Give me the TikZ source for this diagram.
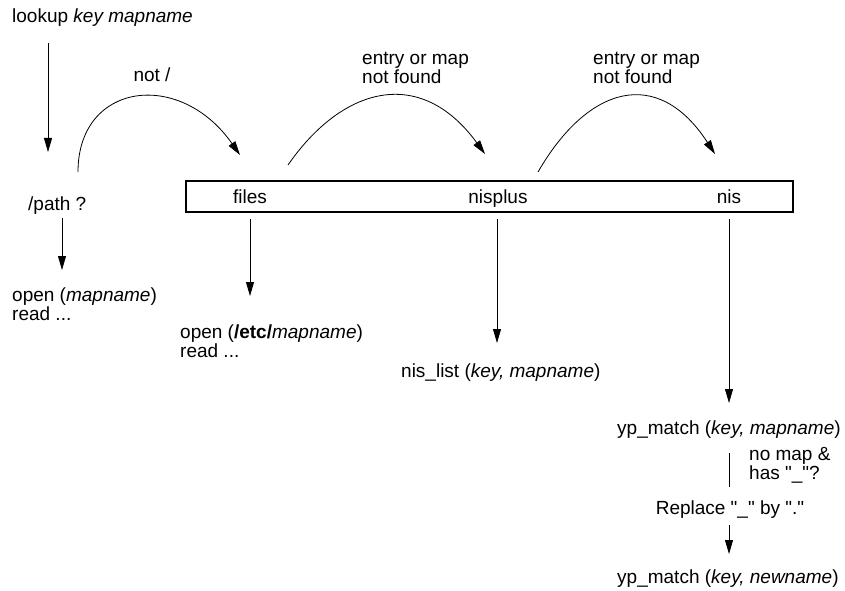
\documentclass[tikz,border=0pt]{standalone}
\usepackage{fontspec}
\setmainfont{Liberation Sans}[Ligatures=TeXOff]
\usetikzlibrary{arrows.meta}
\begin{document}
\begin{tikzpicture}[x=1pt,y=1pt,
  txt/.style={inner sep=0pt, font=\fontsize{19}{19}\selectfont, align=left},
  arr/.style={-{Triangle[length=14pt,width=8pt]}, line width=0.8pt},
  ln/.style={line width=0.8pt},
  bigbox/.style={draw, line width=2pt, minimum width=607pt, minimum height=31pt, inner sep=0pt}
]
\useasboundingbox (0,0) rectangle (845,590);

% nodes
\node[txt, anchor=west] (lookup) at (12,572) {lookup \textit{key mapname}};
\node[txt, anchor=west] (pathq) at (28,384.5) {/path ?};
\node[bigbox] (box) at (489.5,393.5) {};
\node[txt, anchor=base] (files) at (250,386) {files};
\node[txt, anchor=base] (nisplus) at (498,386) {nisplus};
\node[txt, anchor=base] (nis) at (729,386) {nis};
\node[txt] (notlbl) at (152,515) {not /};
\node[txt, anchor=west] (enf1) at (362,522.5) {entry or map\\not found};
\node[txt, anchor=west] (enf2) at (593,522.5) {entry or map\\not found};
\node[txt, anchor=west] (open1) at (12,285.5) {open (\textit{mapname})\\read ...};
\node[txt, anchor=west] (open2) at (180,249) {open (\textbf{/etc/}\textit{mapname})\\read ...};
\node[txt, anchor=west] (nislist) at (401,217) {nis\_list (\textit{key, mapname})};
\node[txt, anchor=west] (yp1) at (617,160.5) {yp\_match (\textit{key, mapname})};
\node[txt, anchor=west] (nomap) at (749,125) {no map \&\\has "\_"?};
\node[txt] (repl) at (730,80) {Replace "\_" by "."};
\node[txt, anchor=west] (yp2) at (617,11) {yp\_match (\textit{key, newname})};

% coordinates for connector ends
\coordinate (a1s) at (48,547);
\coordinate (a1e) at (48,438);
\coordinate (a2s) at (62,372);
\coordinate (a2e) at (62,320);
\coordinate (a3e) at (250,294);
\coordinate (a4e) at (497,247);
\coordinate (a5e) at (729,187);
\coordinate (l6s) at (729,137);
\coordinate (l6e) at (729,103);
\coordinate (a7s) at (729,65);
\coordinate (a7e) at (729,36);

\coordinate (c1s) at (78,418);
\coordinate (c1e) at (240,435);
\coordinate (c2s) at (288,425);
\coordinate (c2e) at (485,436);
\coordinate (c3s) at (538,418);
\coordinate (c3e) at (715,436);

% connectors
\draw[arr] (a1s) -- (a1e);
\draw[arr] (a2s) -- (a2e);
\draw[arr] ([yshift=-6pt]box.south -| a3e) -- (a3e);
\draw[arr] ([yshift=-6pt]box.south -| a4e) -- (a4e);
\draw[arr] ([yshift=-6pt]box.south -| a5e) -- (a5e);
\draw[ln] (l6s) -- (l6e);
\draw[arr] (a7s) -- (a7e);

\draw[arr] (c1s) .. controls (78,508) and (180,521) .. (c1e);
\draw[arr] (c2s) .. controls (342,503) and (420,525) .. (c2e);
\draw[arr] (c3s) .. controls (588,504.6) and (657.8,524.1) .. (c3e);
\end{tikzpicture}
\end{document}
